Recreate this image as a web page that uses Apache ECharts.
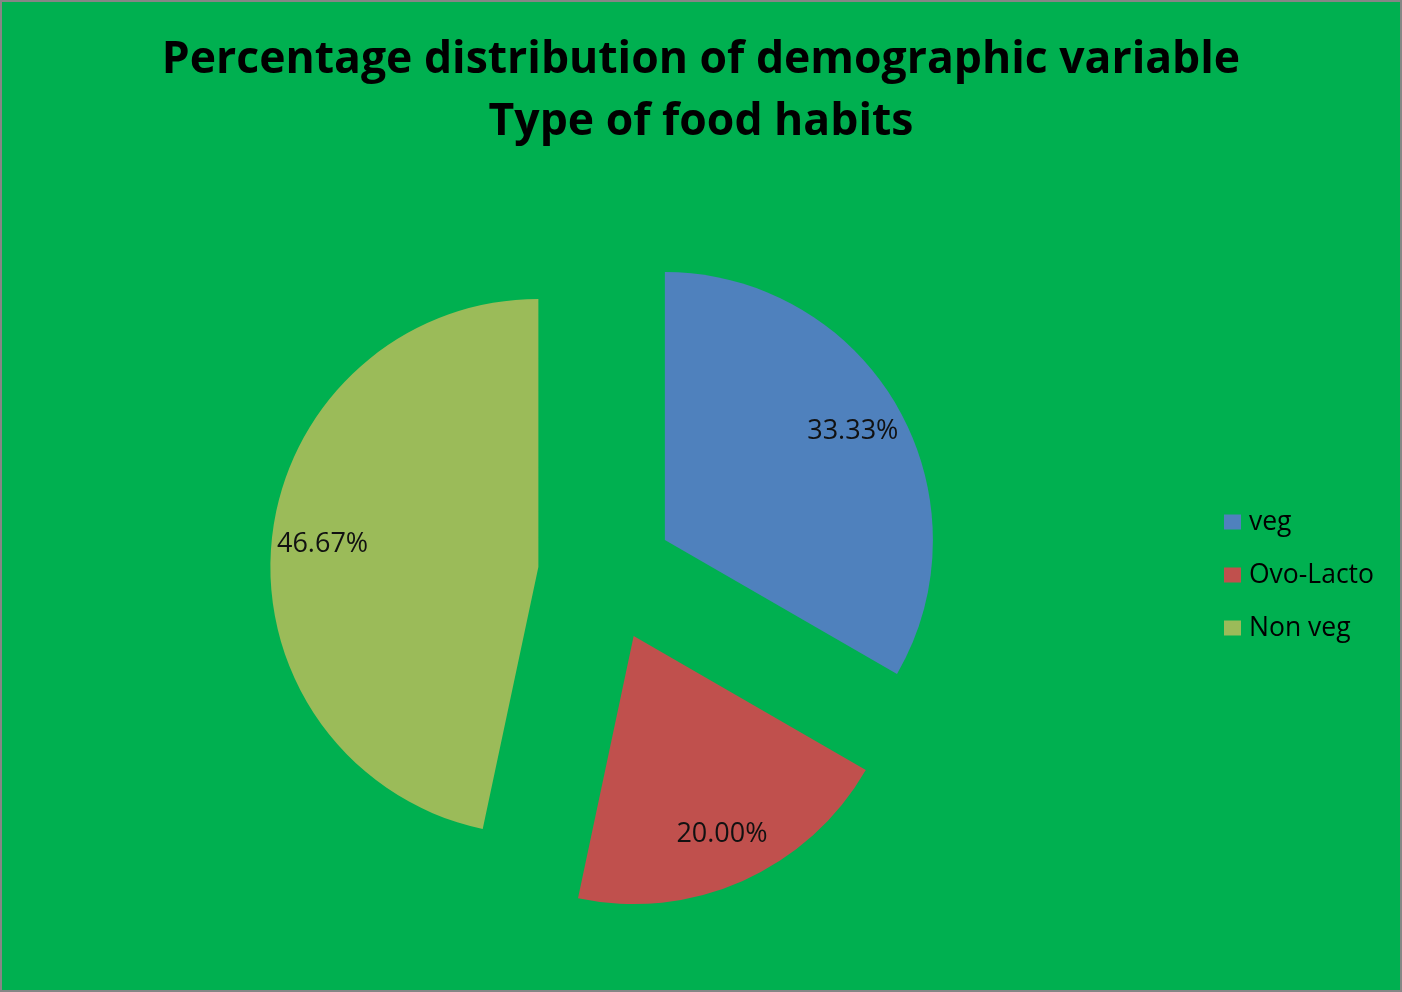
<!DOCTYPE html>
<html>
<head>
<meta charset="utf-8">
<script src="https://cdn.jsdelivr.net/npm/echarts@6/dist/echarts.min.js"></script>
<style>
html,body{margin:0;padding:0;background:#fff;}
#c{width:1402px;height:992px;box-sizing:border-box;border:2px solid #868686;}
</style>
</head>
<body>
<div id="c"></div>
<script>
var categories = ['veg', 'Ovo-Lacto', 'Non veg'];
var values = [33.33, 20.00, 46.67];
var colors = ['#4F81BD', '#C0504D', '#9BBB59'];
var titleText = 'Percentage distribution of demographic variable\nType of food habits';

var chart = echarts.init(document.getElementById('c'));
var mainData = categories.map(function (n, i) {
  return { name: n, value: values[i], selected: true, itemStyle: { color: colors[i] } };
});
var labelData = categories.map(function (n, i) {
  return { name: n, value: values[i], selected: true };
});
chart.setOption({
  backgroundColor: '#00B050',
  animation: false,
  title: {
    text: titleText,
    left: 'center',
    top: 27,
    padding: 0,
    textStyle: { fontFamily: 'Open Sans', fontWeight: 'bold', fontSize: 44.5, lineHeight: 62, color: '#000' }
  },
  legend: {
    orient: 'vertical',
    left: 1222,
    top: 505,
    padding: 0,
    itemWidth: 17,
    itemHeight: 15,
    itemGap: 23,
    icon: 'rect',
    data: categories,
    textStyle: { fontFamily: 'Open Sans', fontSize: 26.5, lineHeight: 30, color: '#000', padding: [0, 0, 0, 3] }
  },
  series: [
    {
      type: 'pie',
      center: [604, 572],
      radius: 268,
      startAngle: 90,
      clockwise: true,
      selectedMode: 'multiple',
      selectedOffset: 68,
      label: { show: false },
      labelLine: { show: false },
      emphasis: { scale: false },
      data: mainData
    },
    {
      type: 'pie',
      center: [604, 572],
      radius: [160, 268],
      startAngle: 90,
      clockwise: true,
      selectedMode: 'multiple',
      selectedOffset: 68,
      silent: true,
      itemStyle: { color: 'rgba(0,0,0,0)' },
      label: {
        show: true,
        position: 'inside',
        formatter: function (p) { return p.value.toFixed(2) + '%'; },
        fontFamily: 'Open Sans',
        fontSize: 27,
        color: '#111'
      },
      labelLine: { show: false },
      emphasis: { scale: false },
      data: labelData
    }
  ]
});
</script>
</body>
</html>
